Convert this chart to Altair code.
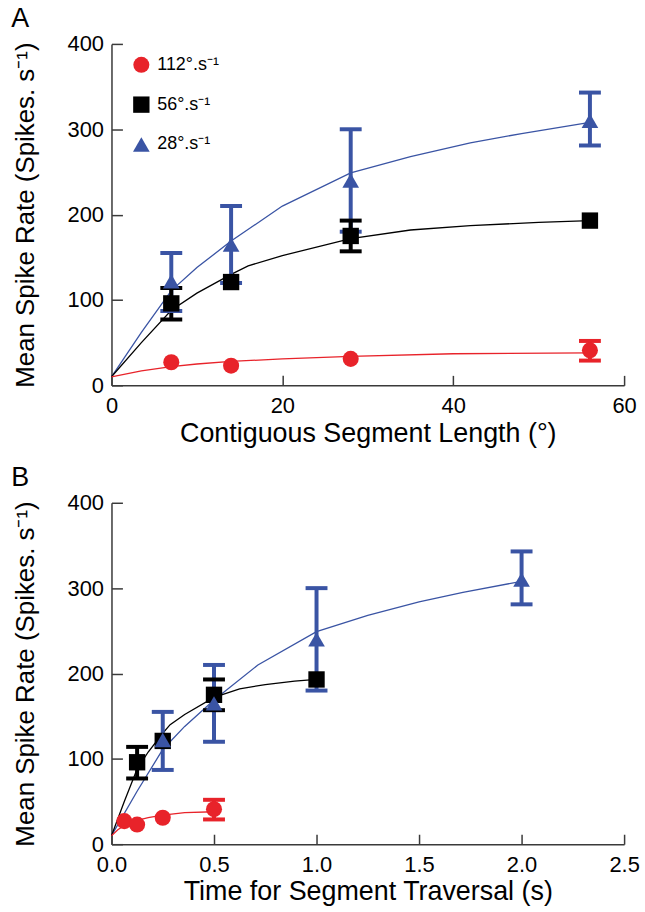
import altair as alt
import pandas as pd

# ---------------- data ----------------
series_names = ["112°.s⁻¹", "56°.s⁻¹", "28°.s⁻¹"]
series_colors = ["#e8232a", "#000000", "#3a54a4"]
series_shapes = ["circle", "square", "triangle-up"]

# segment length (deg) for the measured points, panel A
seg_len = [7, 14, 28, 56]
# time for segment traversal (s), panel B
time_red = [0.0625, 0.125, 0.25, 0.5]
time_black = [0.125, 0.25, 0.5, 1.0]
time_blue = [0.25, 0.5, 1.0, 2.0]

rate_red = [27, 23, 31, 41]
lo_red = [27, 23, 31, 29]
hi_red = [27, 23, 31, 52]

rate_black = [96, 121, 175, 193]
lo_black = [77, 121, 157, 193]
hi_black = [114, 121, 193, 193]

rate_blue = [122, 165, 240, 310]
lo_blue = [87, 120, 180, 281]
hi_blue = [155, 210, 300, 343]

# fitted curves (panel A, x in deg)
fit_red_deg = [0, 3.5, 7, 10, 14, 20, 28, 40, 56]
fit_red_rate = [10, 17, 22, 25, 28, 31, 34, 37, 38]
fit_black_deg = [0, 3.5, 7, 10, 14, 16, 20, 28, 35, 42, 50, 56]
fit_black_rate = [10, 50, 88, 108, 130, 140, 152, 172, 182, 187, 191, 193]
fit_blue_deg = [0, 3.5, 7, 10, 14, 20, 28, 35, 42, 48, 56]
fit_blue_rate = [10, 62, 111, 138, 169, 210, 249, 268, 284, 295, 308]

# fitted curves (panel B, x in s)
fit_red_time = [0, 0.031, 0.0625, 0.089, 0.125, 0.179, 0.25, 0.357, 0.5]
fit_black_time = [0, 0.0625, 0.125, 0.179, 0.25, 0.286, 0.357, 0.5, 0.625, 0.75, 0.893, 1.0]
fit_blue_time = [0, 0.125, 0.25, 0.357, 0.5, 0.714, 1.0, 1.25, 1.5, 1.714, 2.0]

y_ticks = [0, 100, 200, 300, 400]
x_ticks_a = [0, 20, 40, 60]
x_ticks_b = [0, 0.5, 1.0, 1.5, 2.0, 2.5]

FONT = "Liberation Sans"
W, H = 515, 343


def points_df(xs_list, order):
    data = {
        0: (xs_list[0], rate_red, lo_red, hi_red),
        1: (xs_list[1], rate_black, lo_black, hi_black),
        2: (xs_list[2], rate_blue, lo_blue, hi_blue),
    }
    rows = []
    for idx in order:
        xs, ys, los, his = data[idx]
        for x, y, lo, hi in zip(xs, ys, los, his):
            rows.append({"x": x, "y": y, "lo": lo, "hi": hi, "series": series_names[idx]})
    return pd.DataFrame(rows)


def fit_df(curves):
    rows = []
    for idx, xs, ys in curves:
        for x, y in zip(xs, ys):
            rows.append({"x": x, "y": y, "series": series_names[idx]})
    return pd.DataFrame(rows)


color_scale = alt.Scale(domain=series_names, range=series_colors)
shape_scale = alt.Scale(domain=series_names, range=series_shapes)
size_scale = alt.Scale(domain=series_names, range=[260, 280, 240])


def panel(pts, fits, x_domain, x_values, x_fmt, x_title, letter, show_legend):
    xs = alt.Scale(domain=x_domain, nice=False, zero=True)
    ys = alt.Scale(domain=[0, 400], nice=False)

    x_axis = alt.Axis(
        values=x_values, format=x_fmt, title=x_title, orient="bottom",
        ticks=False, labelPadding=10, titlePadding=4, grid=False, labelFlush=False,
    )
    y_axis = alt.Axis(
        values=y_ticks, format="d", orient="left",
        title="Mean Spike Rate (Spikes. s⁻¹)",
        ticks=False, labelPadding=8, titlePadding=29, grid=False, labelFlush=False,
    )
    # tick-only axes placed on the opposite sides, then pulled onto the
    # main axis lines so the ticks point into the plot
    x_tick_axis = alt.Axis(
        values=x_values, orient="top", offset=-H, labels=False, domain=False,
        title=None, ticks=True, tickSize=10, grid=False,
    )
    y_tick_axis = alt.Axis(
        values=y_ticks, orient="right", offset=-W, labels=False, domain=False,
        title=None, ticks=True, tickSize=11, grid=False,
    )

    X = alt.X("x:Q", scale=xs, axis=x_axis)
    lines = alt.Chart(fits).mark_line(strokeWidth=1.3).encode(
        x=X,
        y=alt.Y("y:Q", scale=ys, axis=y_axis),
        color=alt.Color("series:N", scale=color_scale),
        detail="series:N",
    )
    err = alt.Chart(pts).transform_filter("datum.hi > datum.lo")
    bars = err.mark_rule(strokeWidth=4, opacity=1).encode(
        x=X,
        y=alt.Y("lo:Q", scale=ys, axis=y_axis),
        y2="hi:Q",
        color=alt.Color("series:N", scale=color_scale),
    )
    cap_lo = err.mark_tick(orient="horizontal", thickness=4, size=22, opacity=1).encode(
        x=X,
        y=alt.Y("lo:Q", scale=ys, axis=y_axis),
        color=alt.Color("series:N", scale=color_scale),
    )
    cap_hi = err.mark_tick(orient="horizontal", thickness=4, size=22, opacity=1).encode(
        x=X,
        y=alt.Y("hi:Q", scale=ys, axis=y_axis),
        color=alt.Color("series:N", scale=color_scale),
    )
    if show_legend:
        leg = alt.Legend(
            orient="none", legendX=21, legendY=12, title=None,
            labelFontSize=18, labelFont=FONT, labelColor="#000",
            symbolSize=250, rowPadding=22, labelOffset=7,
            symbolStrokeWidth=0, symbolOpacity=1,
        )
        color_enc = alt.Color("series:N", scale=color_scale, legend=leg)
        shape_enc = alt.Shape("series:N", scale=shape_scale, legend=leg)
    else:
        color_enc = alt.Color("series:N", scale=color_scale, legend=None)
        shape_enc = alt.Shape("series:N", scale=shape_scale, legend=None)
    pts_layer = alt.Chart(pts).mark_point(filled=True, opacity=1, strokeWidth=0).encode(
        x=X,
        y=alt.Y("y:Q", scale=ys, axis=y_axis),
        color=color_enc,
        shape=shape_enc,
        size=alt.Size("series:N", scale=size_scale, legend=None),
    )
    tick_layer = alt.Chart(pts).mark_point(opacity=0, size=1).encode(
        x=alt.X("x:Q", scale=xs, axis=x_tick_axis),
        y=alt.Y("y:Q", scale=ys, axis=y_tick_axis),
    )
    main = alt.layer(lines, bars, cap_lo, cap_hi, pts_layer)
    return alt.layer(main, tick_layer).resolve_axis(
        x="independent", y="independent"
    ).properties(
        width=W, height=H,
        title=alt.TitleParams(letter, anchor="start", frame="bounds", fontSize=27,
                              fontWeight="normal", font=FONT, color="#000", offset=0, dx=-1),
    )


pts_a = points_df([seg_len, seg_len, seg_len], [2, 1, 0])
fits_a = fit_df([(2, fit_blue_deg, fit_blue_rate), (1, fit_black_deg, fit_black_rate), (0, fit_red_deg, fit_red_rate)])
pts_b = points_df([time_red, time_black, time_blue], [1, 2, 0])
fits_b = fit_df([(2, fit_blue_time, fit_blue_rate), (1, fit_black_time, fit_black_rate), (0, fit_red_time, fit_red_rate)])

chart_a = panel(pts_a, fits_a, [0, 60], x_ticks_a, "d",
                "Contiguous Segment Length (°)", "A", True)
chart_b = panel(pts_b, fits_b, [0, 2.5], x_ticks_b, ".1f",
                "Time for Segment Traversal (s)", "B", False)

chart = alt.vconcat(chart_a, chart_b, spacing=118, bounds="flush").resolve_scale(
    color="independent", shape="independent", size="independent"
).properties(
    padding={"left": 11, "top": 3, "right": 5, "bottom": 5},
    background="white",
).configure_view(stroke=None).configure_axis(
    labelFont=FONT, titleFont=FONT, labelFontSize=22, titleFontSize=26,
    titleFontWeight="normal", labelColor="#000", titleColor="#000",
    domainColor="#3a3a3a", tickColor="#3a3a3a", domainWidth=1.5, tickWidth=1.5,
).configure_axisBottom(titleFontSize=27).configure_legend(symbolOpacity=1)

chart.save("out.html", embed_options={"renderer": "svg", "actions": False})
